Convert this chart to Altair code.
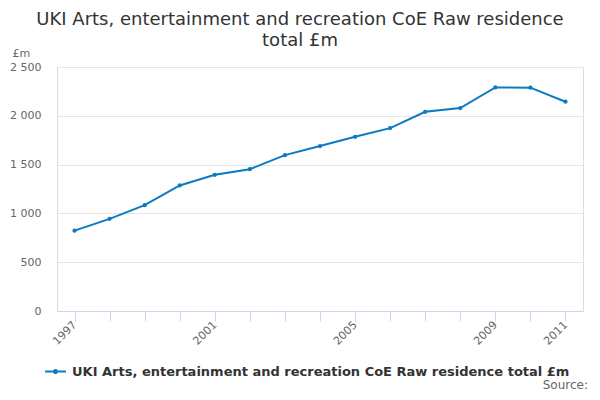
import altair as alt
import pandas as pd

years = [str(y) for y in range(1997, 2012)]
values = [823, 944, 1084, 1286, 1395, 1453, 1597, 1690, 1785, 1874, 2041, 2079, 2291, 2288, 2144]
series_name = "UKI Arts, entertainment and recreation CoE Raw residence total £m"
labelled_years = ["1997", "2001", "2005", "2009", "2011"]
y_ticks = [0, 500, 1000, 1500, 2000, 2500]

df = pd.DataFrame({"year": years, "value": values, "series": [series_name] * len(years)})

FONT = "DejaVu Sans"
COLOR = "#0b7ac2"

legend_symbol = ("M-1,-0.1 L-0.25,-0.1 L-0.25,0.1 L-1,0.1 Z "
                 "M0.25,-0.1 L1,-0.1 L1,0.1 L0.25,0.1 Z "
                 "M-0.25,0 A0.25,0.25 0 1,0 0.25,0 A0.25,0.25 0 1,0 -0.25,0 Z")

label_list = "[" + ",".join("'" + y + "'" for y in labelled_years) + "]"

base = alt.Chart(df)

line = base.mark_line(strokeWidth=2, point=alt.OverlayMarkDef(size=18, filled=True, opacity=1)).encode(
    x=alt.X("year:O",
            scale=alt.Scale(type="point", padding=0.5),
            axis=alt.Axis(title=None, labelAngle=-45, labelAlign="right", labelBaseline="middle",
                          labelExpr=f"indexof({label_list}, datum.label) >= 0 ? datum.label : ''",
                          labelColor="#666666", labelFontSize=11, labelFont=FONT,
                          tickColor="#ccd6eb", tickSize=10, domainColor="#ccd6eb",
                          labelPadding=2, grid=False, labelOverlap=False)),
    y=alt.Y("value:Q",
            scale=alt.Scale(domain=[0, 2500]),
            axis=alt.Axis(title="£m", titleAngle=0, titleAlign="left", titleX=-45, titleY=-9,
                          titleBaseline="bottom", titleFontWeight="normal", titleColor="#666666",
                          titleFontSize=11, titleFont=FONT,
                          values=y_ticks,
                          labelExpr="replace(format(datum.value, ','), ',', ' ')",
                          labelColor="#666666", labelFontSize=11, labelFont=FONT,
                          labelPadding=16, domain=False, ticks=False,
                          gridColor="#e6e6e6")),
    color=alt.Color("series:N", scale=alt.Scale(range=[COLOR]),
                    legend=alt.Legend(title=None, orient="none", legendX=-12, legendY=294,
                                      symbolType=legend_symbol, symbolSize=440,
                                      symbolFillColor=COLOR, symbolStrokeWidth=0,
                                      labelFontWeight="bold", labelFontSize=13, labelColor="#333333",
                                      labelFont=FONT, labelLimit=0, labelOffset=6)),
)

source = alt.Chart(pd.DataFrame({"t": ["Source:"]})).mark_text(
    align="right", baseline="alphabetic", fontSize=12, color="#666666", font=FONT
).encode(text="t:N", x=alt.value(531), y=alt.value(322))

chart = alt.layer(line, source).properties(
    width=526, height=244,
    autosize=alt.AutoSizeParams(type="none"),
    padding={"left": 49, "top": 59, "right": 9, "bottom": 81},
    title=alt.TitleParams(
        text=["UKI Arts, entertainment and recreation CoE Raw residence", "total £m"],
        anchor="middle", fontSize=18, font=FONT, color="#333333", fontWeight="normal",
        lineHeight=21, dx=-20, dy=17, offset=14),
).configure_view(stroke=None).configure(background="white")

chart.save("out.html", embed_options={"renderer": "svg", "actions": False})
